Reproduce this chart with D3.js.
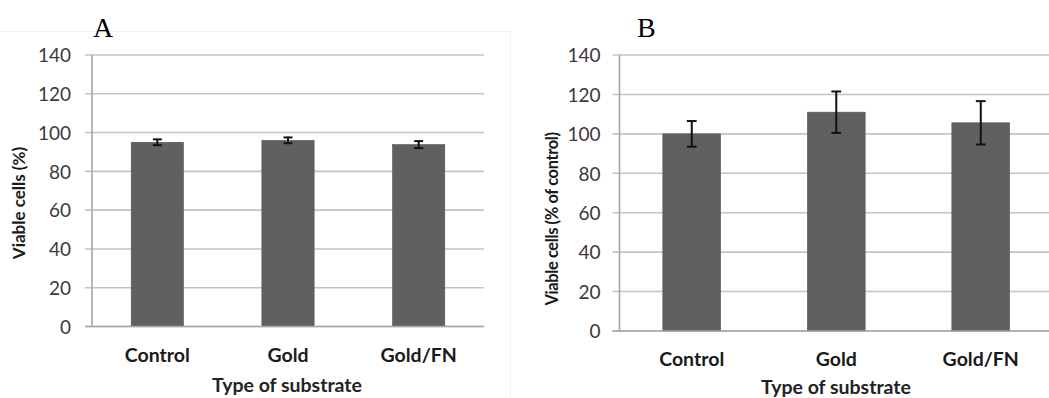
<!DOCTYPE html>
<html>
<head>
<meta charset="utf-8">
<script src="https://cdn.jsdelivr.net/npm/d3@7"></script>
<style>
  html, body { margin: 0; padding: 0; background: #fff; }
  svg { display: block; }
  .tick text { font-family: Lato, "Open Sans", sans-serif; fill: #3a3a3a; }
</style>
</head>
<body>
<svg id="chart" width="1049" height="398"></svg>
<script>
// Substrate categories shared by both panels
const categories = ["Control", "Gold", "Gold/FN"];

// Panel A: viable cells (%)
const viabilityA = [95, 96, 93.8];
const errorA = [1.5, 1.5, 1.8];

// Panel B: viable cells (% of control)
const viabilityB = [100, 111, 105.6];
const errorB = [6.5, 10.5, 11];

// Y-axis tick values
const yTicks = [0, 20, 40, 60, 80, 100, 120, 140];

const svg = d3.select("#chart");

// Faint chart-area outline around panel A
svg.append("line").attr("x1", 0).attr("x2", 510).attr("y1", 31.5).attr("y2", 31.5)
  .attr("stroke", "#f0f0f0").attr("stroke-width", 1);
svg.append("line").attr("x1", 510.5).attr("x2", 510.5).attr("y1", 31).attr("y2", 398)
  .attr("stroke", "#f0f0f0").attr("stroke-width", 1);

function drawPanel(opts) {
  const { values, errors, x0, x1, yBottom, yTop, letter, letterX, yTitle, yTitleX, yTitleY,
          yTitleSize, yTitleSpacing, catY, xTitleX, xTitleY, labelGap } = opts;

  const x = d3.scaleBand().domain(categories).range([x0, x1]).paddingInner(0.6).paddingOuter(0.3);
  const y = d3.scaleLinear().domain([0, 140]).range([yBottom, yTop]);
  const g = svg.append("g");

  // Horizontal gridlines
  g.append("g").selectAll("line").data(yTicks).join("line")
    .attr("x1", x0 - 7).attr("x2", x1)
    .attr("y1", d => y(d)).attr("y2", d => y(d))
    .attr("stroke", "#c4c4c4").attr("stroke-width", 1.6);

  // Y axis with labels
  const yAxis = g.append("g").attr("transform", `translate(${x0},0)`)
    .call(d3.axisLeft(y).tickValues(yTicks).tickSize(0).tickPadding(labelGap));
  yAxis.select(".domain").remove();
  yAxis.selectAll("text").attr("font-size", 19).attr("dy", "0.36em");
  g.append("line").attr("x1", x0).attr("x2", x0).attr("y1", yTop).attr("y2", yBottom)
    .attr("stroke", "#a6a6a6").attr("stroke-width", 1.6);

  // Bars
  g.append("g").selectAll("rect").data(values).join("rect")
    .attr("x", (d, i) => x(categories[i]))
    .attr("y", d => y(d))
    .attr("width", x.bandwidth())
    .attr("height", d => y(0) - y(d))
    .attr("fill", "#606060")
    .attr("stroke", "#555").attr("stroke-width", 0.6);

  // Baseline
  g.append("line").attr("x1", x0 - 7).attr("x2", x1).attr("y1", y(0)).attr("y2", y(0))
    .attr("stroke", "#a6a6a6").attr("stroke-width", 1.6);

  // Error bars
  const capHalf = x.bandwidth() * 0.085;
  const eb = g.append("g").attr("stroke", "#111").attr("stroke-width", 2);
  values.forEach((v, i) => {
    const cx = x(categories[i]) + x.bandwidth() / 2;
    const hi = y(v + errors[i]), lo = y(v - errors[i]);
    eb.append("line").attr("x1", cx).attr("x2", cx).attr("y1", hi).attr("y2", lo);
    eb.append("line").attr("x1", cx - capHalf).attr("x2", cx + capHalf).attr("y1", hi).attr("y2", hi);
    eb.append("line").attr("x1", cx - capHalf).attr("x2", cx + capHalf).attr("y1", lo).attr("y2", lo);
  });

  // Category labels
  g.append("g").selectAll("text").data(categories).join("text")
    .attr("x", d => x(d) + x.bandwidth() / 2)
    .attr("y", catY)
    .attr("text-anchor", "middle")
    .attr("font-family", "Lato, 'Open Sans', sans-serif")
    .attr("font-weight", "bold")
    .attr("font-size", 19.5)
    .attr("fill", "#1a1a1a")
    .text(d => d);

  // X-axis title
  g.append("text").attr("x", xTitleX).attr("y", xTitleY)
    .attr("text-anchor", "middle")
    .attr("font-family", "Lato, 'Open Sans', sans-serif")
    .attr("font-size", 19.5).attr("font-weight", "bold")
    .attr("fill", "#222")
    .text("Type of substrate");

  // Y-axis title
  g.append("text")
    .attr("transform", `translate(${yTitleX},${yTitleY}) rotate(-90)`)
    .attr("text-anchor", "middle")
    .attr("dy", "0.35em")
    .attr("font-family", "Lato, 'Open Sans', sans-serif")
    .attr("font-weight", "bold")
    .attr("font-size", yTitleSize)
    .attr("letter-spacing", yTitleSpacing)
    .attr("fill", "#1a1a1a")
    .text(yTitle);

  // Panel letter
  g.append("text").attr("x", letterX).attr("y", 37)
    .attr("font-family", "'Liberation Serif', 'Times New Roman', serif")
    .attr("font-size", 28)
    .attr("fill", "#000")
    .text(letter);
}

drawPanel({
  values: viabilityA, errors: errorA,
  x0: 92, x1: 484, yBottom: 326.5, yTop: 55,
  letter: "A", letterX: 93,
  yTitle: "Viable cells (%)", yTitleX: 19, yTitleY: 203, yTitleSize: 17, yTitleSpacing: 0,
  catY: 362, xTitleX: 287, xTitleY: 392, labelGap: 21
});

drawPanel({
  values: viabilityB, errors: errorB,
  x0: 619.5, x1: 1053, yBottom: 331, yTop: 55,
  letter: "B", letterX: 637,
  yTitle: "Viable cells (% of control)", yTitleX: 552, yTitleY: 219, yTitleSize: 16.5, yTitleSpacing: -0.4,
  catY: 366, xTitleX: 836, xTitleY: 394, labelGap: 19
});
</script>
</body>
</html>
